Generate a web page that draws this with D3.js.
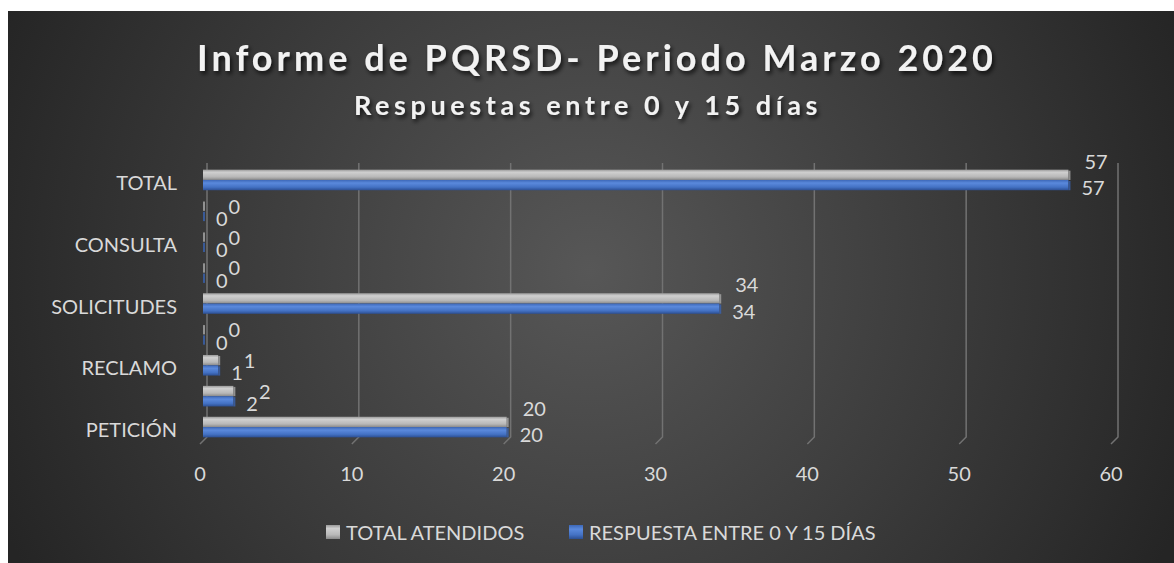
<!DOCTYPE html>
<html>
<head>
<meta charset="utf-8">
<script src="https://cdn.jsdelivr.net/npm/d3@7"></script>
<style>
  html, body { margin: 0; padding: 0; background: #fff; }
  svg { display: block; font-family: Lato, "Open Sans", sans-serif; }
</style>
</head>
<body>
<div id="chart"></div>
<script>
// categories, bottom to top (empty ones are not labelled in the original)
const categories = ['PETICIÓN', '', 'RECLAMO', '', 'SOLICITUDES', '', 'CONSULTA', '', 'TOTAL'];
const totalAtendidos = [20, 2, 1, 0, 34, 0, 0, 0, 57];
const respuesta15 = [20, 2, 1, 0, 34, 0, 0, 0, 57];
const seriesNames = ['TOTAL ATENDIDOS', 'RESPUESTA ENTRE 0 Y 15 DÍAS'];
const xTicks = [0, 10, 20, 30, 40, 50, 60];

const W = 1174, H = 563;
const txtColor = '#d9d9d9';
const fs = 20;

const svg = d3.select('#chart').append('svg')
    .attr('width', W)
    .attr('height', H);

const defs = svg.append('defs');

const bg = defs.append('radialGradient')
    .attr('id', 'bg')
    .attr('gradientUnits', 'userSpaceOnUse')
    .attr('cx', 590).attr('cy', 270).attr('r', 640);
bg.append('stop').attr('offset', 0).attr('stop-color', '#575757');
bg.append('stop').attr('offset', 1).attr('stop-color', '#252525');

// vertical gradient of each bar
function barGradient(id, stops) {
    const g = defs.append('linearGradient')
        .attr('id', id)
        .attr('x1', 0).attr('y1', 0).attr('x2', 0).attr('y2', 1);
    stops.forEach(s => g.append('stop').attr('offset', s[0]).attr('stop-color', s[1]));
}
barGradient('gGray', [[0, '#9a9a9a'], [0.25, '#cfcfcf'], [0.7, '#b8b8b8'], [1, '#8a8a8a']]);
barGradient('gBlue', [[0, '#3d68b8'], [0.3, '#5a89dc'], [0.7, '#4472c4'], [1, '#2c4f93']]);

const shadow = defs.append('filter').attr('id', 'shadow')
    .attr('x', '-10%').attr('y', '-30%').attr('width', '120%').attr('height', '160%');
shadow.append('feDropShadow')
    .attr('dx', 2).attr('dy', 3).attr('stdDeviation', 2)
    .attr('flood-color', '#000').attr('flood-opacity', 0.7);

svg.append('rect')
    .attr('x', 8).attr('y', 11)
    .attr('width', W - 8).attr('height', H - 11)
    .attr('fill', 'url(#bg)');

// scales
const x = d3.scaleLinear().domain([0, 60]).range([203, 1114]);
const y = d3.scaleBand().domain(d3.range(categories.length)).range([442.5, 164.5]);
const y1 = d3.scaleBand().domain([0, 1]).range([0, y.bandwidth()]).paddingOuter(0.5);

const wallTop = 163, wallBottom = 437, floorFront = 444;
const wallDx = 4, floorDx = -3;

// back wall grid lines with floor edge
const grid = svg.append('g');
grid.selectAll('path')
    .data(xTicks)
    .join('path')
    .attr('d', d => `M${x(d) + wallDx},${wallTop}V${wallBottom}L${x(d) + floorDx},${floorFront}`)
    .attr('fill', 'none')
    .attr('stroke', '#727272')
    .attr('stroke-width', 1.5);

// x tick labels
svg.append('g').selectAll('text')
    .data(xTicks)
    .join('text')
    .attr('x', d => x(d) + floorDx)
    .attr('y', 473)
    .attr('text-anchor', 'middle')
    .attr('dominant-baseline', 'central')
    .attr('font-size', fs)
    .attr('fill', txtColor)
    .text(d => d);

// category labels
svg.append('g').selectAll('text')
    .data(categories)
    .join('text')
    .attr('x', 177)
    .attr('y', (d, i) => y(i) + y.bandwidth() / 2 + 2)
    .attr('text-anchor', 'end')
    .attr('dominant-baseline', 'central')
    .attr('font-size', fs)
    .attr('fill', txtColor)
    .text(d => d);

// bars
const seriesData = [totalAtendidos, respuesta15];
const fills = ['url(#gGray)', 'url(#gBlue)'];
const caps = ['#a8a8a8', '#3a63b0'];

const bars = svg.append('g');
seriesData.forEach((vals, s) => {
    const g = bars.append('g');
    g.selectAll('rect.bar')
        .data(vals)
        .join('rect')
        .attr('class', 'bar')
        .attr('x', x(0))
        .attr('y', (d, i) => y(i) + y1(s))
        .attr('width', d => x(d) - x(0))
        .attr('height', y1.bandwidth())
        .attr('fill', fills[s]);
    // end face of the 3d bar
    g.selectAll('rect.cap')
        .data(vals)
        .join('rect')
        .attr('class', 'cap')
        .attr('x', d => x(d))
        .attr('y', (d, i) => y(i) + y1(s) + 1)
        .attr('width', 2)
        .attr('height', y1.bandwidth() - 1)
        .attr('fill', caps[s])
        .attr('opacity', 0.8);
});

// data labels: blue right of the bar end, gray beside it (small) or above (large)
const lab = svg.append('g')
    .attr('font-size', fs)
    .attr('fill', txtColor);

const blueLab = lab.selectAll('text.b')
    .data(respuesta15)
    .join('text')
    .attr('class', 'b')
    .attr('x', d => x(d) + 13)
    .attr('y', (d, i) => y(i) + y1(1) + y1.bandwidth() / 2 + 2)
    .attr('dominant-baseline', 'central')
    .text(d => d);

const blueEnd = blueLab.nodes().map(n => n.getBBox().x + n.getBBox().width);

lab.selectAll('text.g')
    .data(totalAtendidos)
    .join('text')
    .attr('class', 'g')
    .attr('x', (d, i) => d < 10 ? blueEnd[i] + 1 : x(d) + 16)
    .attr('y', (d, i) => d < 10
        ? y(i) + y1(0) + y1.bandwidth() / 2
        : y(i) + y1(0) - 9)
    .attr('dominant-baseline', 'central')
    .text(d => d);

// fit a text to a given width with letter spacing
function fitText(sel, w) {
    const n = sel.text().length;
    const nat = sel.node().getComputedTextLength();
    sel.attr('letter-spacing', (w - nat) / n);
}

const title = svg.append('text')
    .attr('x', 597)
    .attr('y', 57)
    .attr('text-anchor', 'middle')
    .attr('dominant-baseline', 'central')
    .attr('font-size', 36)
    .attr('font-weight', 'bold')
    .attr('fill', '#f2f2f2')
    .attr('filter', 'url(#shadow)')
    .text('Informe de PQRSD- Periodo Marzo 2020');
fitText(title, 800);

const sub = svg.append('text')
    .attr('x', 588)
    .attr('y', 104)
    .attr('text-anchor', 'middle')
    .attr('dominant-baseline', 'central')
    .attr('font-size', 27)
    .attr('font-weight', 'bold')
    .attr('fill', '#f2f2f2')
    .attr('filter', 'url(#shadow)')
    .text('Respuestas entre 0 y 15 días');
fitText(sub, 468);

// legend
const legend = svg.append('g');
const items = legend.selectAll('g')
    .data(seriesNames)
    .join('g');
items.append('rect')
    .attr('width', 14)
    .attr('height', 14)
    .attr('y', -7)
    .attr('fill', (d, i) => fills[i]);
items.append('text')
    .attr('x', 20)
    .attr('dominant-baseline', 'central')
    .attr('font-size', fs)
    .attr('fill', txtColor)
    .text(d => d);

let lx = 0;
const lw = [];
items.each((d, i, g) => {
    const w = Math.ceil(g[i].getBBox().width);
    lw.push(lx);
    lx += w + 44;
});
const legendW = lx - 44;
items.attr('transform', (d, i) => `translate(${lw[i]} 0)`);
legend.attr('transform', `translate(${601 - legendW / 2} 532)`);
</script>
</body>
</html>
